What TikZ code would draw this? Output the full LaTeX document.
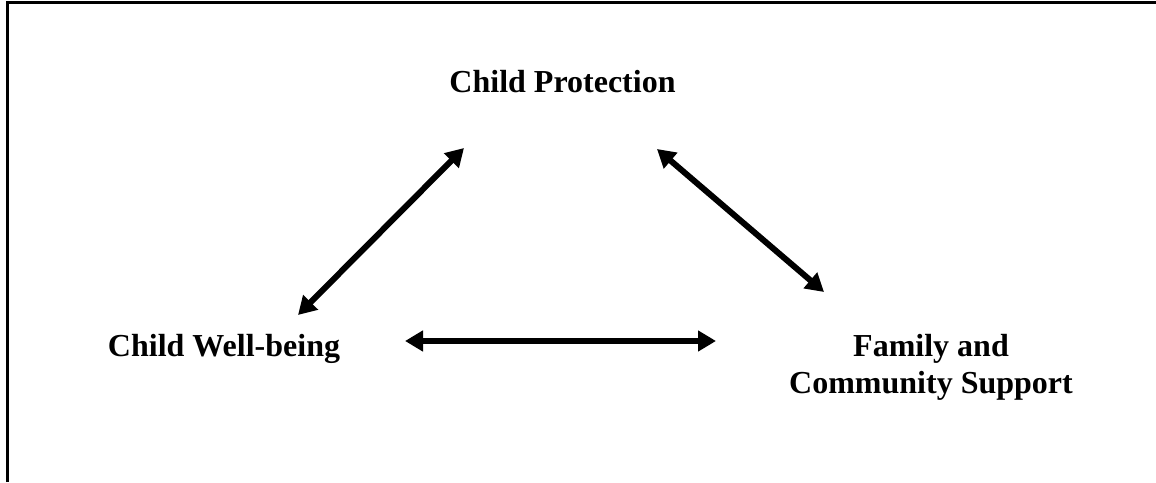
\documentclass[tikz,border=0pt]{standalone}
\usepackage{fontspec}
\setmainfont{Liberation Serif}
\usetikzlibrary{arrows.meta}
\begin{document}
\begin{tikzpicture}[x=1pt,y=1pt,
  lbl/.style={font=\fontsize{32}{37}\selectfont\bfseries, inner sep=0pt, align=center},
  link/.style={line width=6pt, {Triangle[length=18pt,width=20pt]}-{Triangle[length=18pt,width=20pt]}},
  frame/.style={line width=3pt}]
\useasboundingbox (0,0) rectangle (1156,482);
% frame (top and left only)
\draw[frame] (7,0) -- (7,479) -- (1156,479);
% labels
\node[lbl, anchor=base] (cp) at (562.5,389) {Child Protection};
\node[lbl, anchor=base] (cwb) at (224,125) {Child Well-being};
\node[lbl] (fcs) at (931,115) {Family and\\Community Support};
% arrow end points
\coordinate (a1s) at (298,167);
\coordinate (a1e) at (464,334);
\coordinate (a2s) at (657,333);
\coordinate (a2e) at (824,190);
\coordinate (a3s) at (405,141);
\coordinate (a3e) at (716,141);
\draw[link] (a1s) -- (a1e);
\draw[link] (a2s) -- (a2e);
\draw[link] (a3s) -- (a3e);
\end{tikzpicture}
\end{document}
